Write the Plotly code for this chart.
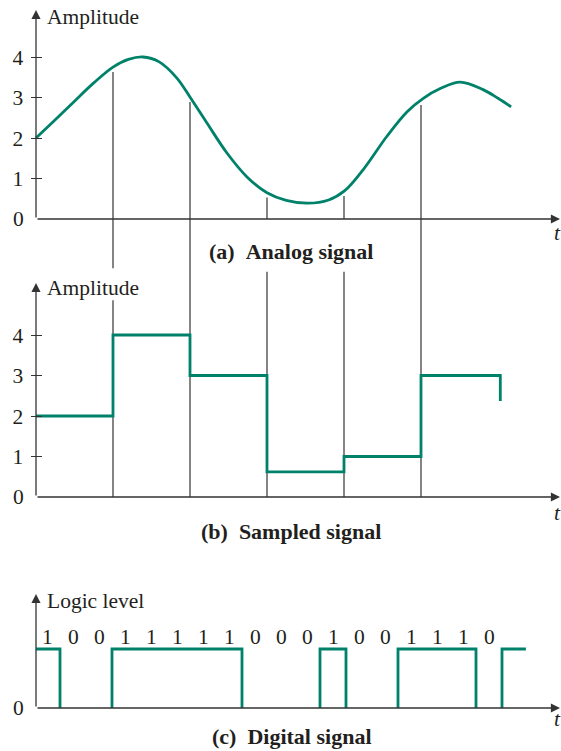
import numpy as np
import plotly.graph_objects as go

# ---------------- data ----------------
analog_t = [0, 0.25, 0.5, 0.75, 1.0, 1.2, 1.39, 1.6, 1.83, 2.01, 2.22, 2.48, 2.74,
            3.0, 3.25, 3.53, 3.8, 4.01, 4.25, 4.56, 4.82, 5.03, 5.25, 5.51, 5.8, 6.0, 6.17]
analog_v = [2.0, 2.45, 2.91, 3.36, 3.75, 3.94, 4.0, 3.88, 3.48, 2.98, 2.37, 1.63, 1.04,
            0.65, 0.46, 0.39, 0.47, 0.70, 1.22, 2.05, 2.65, 2.98, 3.22, 3.38, 3.2, 2.98, 2.77]

sample_times = [0, 1, 2, 3, 4, 5]
sample_values = [2, 4, 3, 0.62, 1.0, 3.0]
sample_end_t = 6.03
sample_end_v = 2.37

marker_times = [1, 2, 3, 4, 5]

bits = [1, 0, 0, 1, 1, 1, 1, 1, 0, 0, 0, 1, 0, 0, 1, 1, 1, 0]
next_bit = 1
wave_end = 18.92

amp_ticks = [1, 2, 3, 4]

# ---------------- geometry helpers ----------------
W, H = 561, 751
FONT = "Liberation Serif"
TXT = "#231f20"
AX = "#333333"
GREEN = "#00826a"
FS = 21.5


def paper_y(py):
    return 1 - py / H


def panel(px_top, px_bot, px_zero, px_unit):
    dom = [paper_y(px_bot), paper_y(px_top)]
    rng = [(px_zero - px_bot) / px_unit, (px_zero - px_top) / px_unit]
    return dom, rng


# pixel layout of the three panels
dom_a, rng_a = panel(0, 260, 219, 40.5)
dom_b, rng_b = panel(260, 545, 497, 40.5)
dom_c, rng_c = panel(545, 751, 708, 59)

t_rng = [-36 / 77, 525 / 77]
bit_rng = [-34 / 26, 527 / 26]

fig = go.Figure()

line_kw = dict(mode="lines", hoverinfo="skip", showlegend=False)

# ---- vertical sample markers ----
tops = np.interp(marker_times, analog_t, analog_v) - 0.12
for t, top in zip(marker_times, tops):
    if t in (3, 4):
        fig.add_trace(go.Scatter(x=[t, t], y=[top, 0], xaxis="x", yaxis="y",
                                 line=dict(color=AX, width=1.2), **line_kw))
        fig.add_trace(go.Scatter(x=[t, t], y=[5.56, 0], xaxis="x2", yaxis="y2",
                                 line=dict(color=AX, width=1.2), **line_kw))
    else:
        fig.add_trace(go.Scatter(x=[t, t], y=[top, rng_a[0]], xaxis="x", yaxis="y",
                                 line=dict(color=AX, width=1.2), **line_kw))
        if t == 1:
            ys = [rng_b[1], 5.65, None, 4.86, 0]
            xs = [t, t, None, t, t]
        else:
            ys = [rng_b[1], 0]
            xs = [t, t]
        fig.add_trace(go.Scatter(x=xs, y=ys, xaxis="x2", yaxis="y2",
                                 line=dict(color=AX, width=1.2), **line_kw))

# ---- analog signal ----
fig.add_trace(go.Scatter(x=analog_t, y=analog_v, xaxis="x", yaxis="y",
                         line=dict(color=GREEN, width=2.8, shape="spline", smoothing=1.0),
                         **line_kw))

# ---- sampled signal ----
sx = sample_times + [sample_end_t, sample_end_t]
sy = sample_values + [sample_values[-1], sample_end_v]
fig.add_trace(go.Scatter(x=sx, y=sy, xaxis="x2", yaxis="y2",
                         line=dict(color=GREEN, width=2.8, shape="hv"), **line_kw))

# ---- digital signal ----
wbits = bits + [next_bit]
start_b = 2 / 26  # at y axis
dx, dy = [], []
i = 0
while i < len(wbits):
    if wbits[i] == 1:
        j = i
        while j < len(wbits) and wbits[j] == 1:
            j += 1
        s = max(i, start_b)
        e = min(j, wave_end)
        if i > 0:
            dx.append(s); dy.append(0)
        dx.append(s); dy.append(1)
        dx.append(e); dy.append(1)
        if e < wave_end:
            dx.append(e); dy.append(0)
        dx.append(None); dy.append(None)
        i = j
    else:
        i += 1
fig.add_trace(go.Scatter(x=dx, y=dy, xaxis="x3", yaxis="y3",
                         line=dict(color=GREEN, width=2.8), **line_kw))

# ---------------- axes ----------------
xcommon = dict(visible=False, showgrid=False, zeroline=False, fixedrange=True)
ycommon = dict(showgrid=False, zeroline=False, showline=False, anchor="free",
               position=41.5 / W, ticks="outside", ticklen=11, tickwidth=1.2,
               tickcolor=AX, tickfont=dict(family=FONT, size=FS, color=TXT),
               ticklabelstandoff=3, fixedrange=True)

fig.update_layout(
    width=W, height=H, margin=dict(l=0, r=0, t=0, b=0),
    paper_bgcolor="white", plot_bgcolor="rgba(0,0,0,0)", showlegend=False,
    xaxis=dict(domain=[0, 1], range=t_rng, anchor="y", **xcommon),
    xaxis2=dict(domain=[0, 1], range=t_rng, anchor="y2", **xcommon),
    xaxis3=dict(domain=[0, 1], range=bit_rng, anchor="y3", **xcommon),
    yaxis=dict(domain=dom_a, range=rng_a, tickvals=amp_ticks, **ycommon),
    yaxis2=dict(domain=dom_b, range=rng_b, tickvals=amp_ticks, **ycommon),
    yaxis3=dict(domain=dom_c, range=rng_c, tickvals=[], **ycommon),
)

ann = []


def arrow(xr, yr, x, y, ax, ay):
    ann.append(dict(xref=xr, yref=yr, axref=xr, ayref=yr, x=x, y=y, ax=ax, ay=ay,
                    text="", showarrow=True, arrowhead=2, arrowsize=1.4,
                    arrowwidth=1.3, arrowcolor=AX, standoff=0, startstandoff=0))


# axes arrows
arrow("x", "y", 524 / 77, 0, 0, 0)
arrow("x", "y", 0, (219 - 10) / 40.5, 0, 0)
arrow("x2", "y2", 524 / 77, 0, 0, 0)
arrow("x2", "y2", 0, (497 - 283) / 40.5, 0, 0)
arrow("x3", "y3", 526 / 26, 0, start_b, 0)
arrow("x3", "y3", start_b, (708 - 594) / 59, start_b, 0)


def text(xr, yr, x, y, s, size=FS, xa="left", ya="middle", **kw):
    ann.append(dict(xref=xr, yref=yr, x=x, y=y, text=s, showarrow=False,
                    xanchor=xa, yanchor=ya,
                    font=dict(family=FONT, size=size, color=TXT), **kw))


# zero labels
for yr in ("y", "y2", "y3"):
    text("paper", yr, 26 / W, 0, "0", xa="right")

# axis titles
text("paper", "y", 45 / W, (219 - 17) / 40.5, "Amplitude")
text("paper", "y2", 45 / W, (497 - 288) / 40.5, "Amplitude")
text("paper", "y3", 45 / W, (708 - 601) / 59, "Logic level")

# t labels
for py in (233, 513, 719):
    text("paper", "paper", 557 / W, paper_y(py), "<i>t</i>", xa="center")

# bit labels
for k, b in enumerate(bits):
    text("x3", "y3", k + 0.5, (708 - 637) / 59, str(b), xa="center")

# captions
CS = 22
text("paper", "paper", 291 / W, paper_y(252), "<b>(a)\u00a0\u00a0Analog signal</b>", size=CS, xa="center")
text("paper", "paper", 291 / W, paper_y(531), "<b>(b)\u00a0\u00a0Sampled signal</b>", size=CS, xa="center")
text("paper", "paper", 292 / W, paper_y(750), "<b>(c)\u00a0\u00a0Digital signal</b>", size=CS,
     xa="center", ya="bottom", borderpad=0)

fig.update_layout(annotations=ann)

fig.write_html("out.html", config={"displayModeBar": False},
               post_script="document.body.style.margin='0';document.body.style.padding='0';")
